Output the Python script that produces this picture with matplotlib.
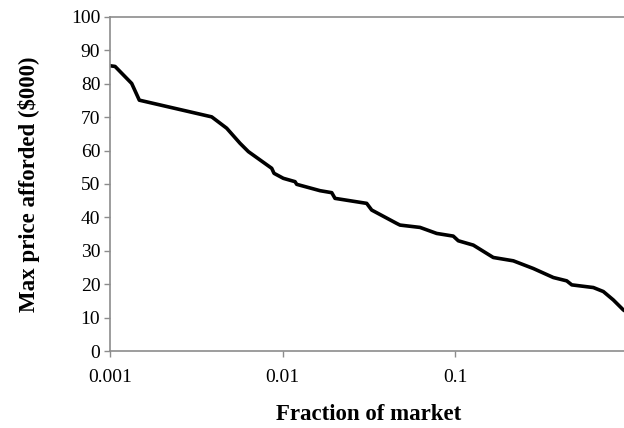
import numpy as np
import matplotlib.pyplot as plt
from matplotlib.ticker import FixedLocator, NullLocator, FixedFormatter

# dados
fraction = [0.001, 0.00107, 0.001336, 0.001479, 0.003886, 0.004748, 0.00567,
            0.00634, 0.00866, 0.00893, 0.01011, 0.01182, 0.01209, 0.0165,
            0.0193, 0.02015, 0.03076, 0.03289, 0.0459, 0.048, 0.0627, 0.0783,
            0.0977, 0.1045, 0.1277, 0.1667, 0.2178, 0.2844, 0.3716, 0.4444,
            0.4753, 0.634, 0.7244, 0.827, 0.946, 1.0]
max_price = [85.4, 85.2, 80.1, 75.1, 70.1, 66.7, 62.2,
             59.7, 54.7, 53.2, 51.7, 50.7, 49.9, 48.0,
             47.4, 45.7, 44.2, 42.2, 38.2, 37.7, 37.0, 35.2,
             34.4, 33.0, 31.7, 28.0, 27.0, 24.7, 22.0, 21.0,
             19.8, 19.0, 17.8, 15.3, 12.3, 11.5]

x_ticks = [0.001, 0.01, 0.1]
x_tick_labels = ["0.001", "0.01", "0.1"]
y_ticks = list(range(0, 101, 10))

plt.rcParams['font.family'] = ['Liberation Serif', 'DejaVu Serif']

fig = plt.figure(figsize=(6.24, 4.28), dpi=100)
ax = fig.add_axes([110 / 624, 1 - 351 / 428, (627.5 - 110) / 624, (351 - 17) / 428])

ax.plot(fraction, max_price, color='black', lw=2.6, solid_joinstyle='round')

ax.set_xscale('log')
ax.set_xlim(0.001, 1)
ax.set_ylim(0, 100)
ax.xaxis.set_major_locator(FixedLocator(x_ticks))
ax.xaxis.set_major_formatter(FixedFormatter(x_tick_labels))
ax.xaxis.set_minor_locator(NullLocator())
ax.set_yticks(y_ticks)

cinza = '#8c8c8c'
for lado in ['left', 'bottom', 'top']:
    ax.spines[lado].set_color(cinza)
    ax.spines[lado].set_linewidth(1.2)
ax.spines['right'].set_visible(False)

ax.tick_params(axis='both', direction='out', length=4, width=1, color=cinza,
               labelsize=14, labelcolor='black')
ax.tick_params(axis='x', pad=9)
ax.tick_params(axis='y', pad=3)

ax.set_xlabel("Fraction of market", fontsize=16.5, fontweight='bold', labelpad=13)
ax.set_ylabel("Max price afforded ($000)", fontsize=16.5, fontweight='bold', labelpad=22)

fig.savefig("out.png", dpi=100)
